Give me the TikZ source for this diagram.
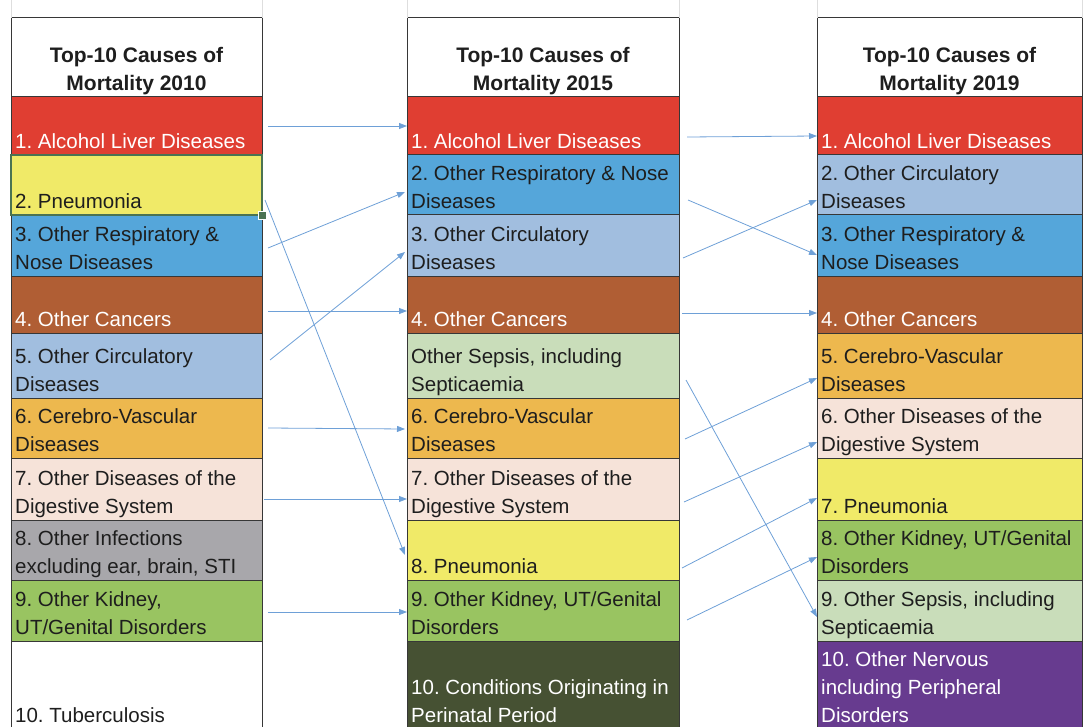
\documentclass[tikz,border=0pt]{standalone}
\usepackage{fontspec}
\setmainfont{Liberation Sans}
\usetikzlibrary{arrows.meta}

\definecolor{cellline}{RGB}{55,55,55}
\definecolor{darktext}{RGB}{30,30,30}
\definecolor{gridgray}{RGB}{222,222,222}
\definecolor{linkblue}{RGB}{110,160,215}
\definecolor{selgreen}{RGB}{75,115,82}
\definecolor{alcred}{RGB}{224,62,50}
\definecolor{pneuyellow}{RGB}{240,234,104}
\definecolor{respblue}{RGB}{85,166,218}
\definecolor{cancerbrown}{RGB}{176,94,52}
\definecolor{circblue}{RGB}{161,190,223}
\definecolor{cerebroorange}{RGB}{237,184,78}
\definecolor{digestpeach}{RGB}{246,227,217}
\definecolor{infectgray}{RGB}{168,167,171}
\definecolor{kidneygreen}{RGB}{153,196,97}
\definecolor{sepsisgreen}{RGB}{201,221,186}
\definecolor{perinataldark}{RGB}{70,81,51}
\definecolor{nervouspurple}{RGB}{103,59,143}

\newcommand\cellstrut{\rule[-5pt]{0pt}{21pt}}
\frenchspacing

\begin{document}
\begin{tikzpicture}[x=1pt, y=-1pt,
    cell/.style={draw=cellline, line width=1pt, anchor=north west, inner sep=0pt, outer sep=0pt},
    txt/.style={anchor=south west, inner xsep=4pt, inner ysep=1pt, align=left, text=darktext,
        font=\fontsize{20.5}{28}\selectfont, execute at end node=\cellstrut},
    light/.style={txt, text=white},
    ttl/.style={anchor=south, inner xsep=0pt, inner ysep=1pt, align=center, text=darktext,
        font=\fontsize{21}{28}\selectfont\bfseries, execute at end node=\cellstrut},
    grid/.style={draw=gridgray, line width=0.8pt},
    selbox/.style={draw=selgreen, line width=2.6pt},
    link/.style={draw=linkblue, line width=0.8pt, -{Triangle[length=8pt,width=6pt]}}
]
    \useasboundingbox (0,0) rectangle (1086,727);
    \clip (0,0) rectangle (1086,727);

    \node[cell, fill=white, minimum width=251pt, minimum height=79pt,
        label={[ttl]south:Top-10 Causes of\\Mortality 2010}] (a0) at (11,18) {};
    \node[cell, fill=alcred, minimum width=251pt, minimum height=58pt,
        label={[light]south west:1. Alcohol Liver Diseases}] (a1) at (11,97) {};
    \node[cell, fill=pneuyellow, minimum width=251pt, minimum height=60pt,
        label={[txt]south west:2. Pneumonia}] (a2) at (11,155) {};
    \node[cell, fill=respblue, minimum width=251pt, minimum height=61pt,
        label={[txt]south west:3. Other Respiratory \&\\Nose Diseases}] (a3) at (11,215) {};
    \node[cell, fill=cancerbrown, minimum width=251pt, minimum height=57pt,
        label={[light]south west:4. Other Cancers}] (a4) at (11,276) {};
    \node[cell, fill=circblue, minimum width=251pt, minimum height=65pt,
        label={[txt]south west:5. Other Circulatory\\Diseases}] (a5) at (11,333) {};
    \node[cell, fill=cerebroorange, minimum width=251pt, minimum height=60pt,
        label={[txt]south west:6. Cerebro-Vascular\\Diseases}] (a6) at (11,398) {};
    \node[cell, fill=digestpeach, minimum width=251pt, minimum height=62pt,
        label={[txt]south west:7. Other Diseases of the\\Digestive System}] (a7) at (11,458) {};
    \node[cell, fill=infectgray, minimum width=251pt, minimum height=60pt,
        label={[txt]south west:{8. Other Infections\\excluding ear, brain, STI}}] (a8) at (11,520) {};
    \node[cell, fill=kidneygreen, minimum width=251pt, minimum height=61pt,
        label={[txt]south west:{9. Other Kidney,\\UT/Genital Disorders}}] (a9) at (11,580) {};
    \node[cell, fill=white, minimum width=251pt, minimum height=88pt,
        label={[txt]south west:10. Tuberculosis}] (a10) at (11,641) {};
    \draw[selbox] (a2.north west) rectangle (a2.south east);
    \node[fill=selgreen, draw=white, line width=0.6pt, minimum size=8pt, inner sep=0pt] (handle) at (a2.south east) {};

    \node[cell, fill=white, minimum width=272pt, minimum height=79pt,
        label={[ttl]south:Top-10 Causes of\\Mortality 2015}] (b0) at (407,18) {};
    \node[cell, fill=alcred, minimum width=272pt, minimum height=58pt,
        label={[light]south west:1. Alcohol Liver Diseases}] (b1) at (407,97) {};
    \node[cell, fill=respblue, minimum width=272pt, minimum height=60pt,
        label={[txt]south west:2. Other Respiratory \& Nose\\Diseases}] (b2) at (407,155) {};
    \node[cell, fill=circblue, minimum width=272pt, minimum height=61pt,
        label={[txt]south west:3. Other Circulatory\\Diseases}] (b3) at (407,215) {};
    \node[cell, fill=cancerbrown, minimum width=272pt, minimum height=57pt,
        label={[light]south west:4. Other Cancers}] (b4) at (407,276) {};
    \node[cell, fill=sepsisgreen, minimum width=272pt, minimum height=65pt,
        label={[txt]south west:{Other Sepsis, including\\Septicaemia}}] (b5) at (407,333) {};
    \node[cell, fill=cerebroorange, minimum width=272pt, minimum height=60pt,
        label={[txt]south west:6. Cerebro-Vascular\\Diseases}] (b6) at (407,398) {};
    \node[cell, fill=digestpeach, minimum width=272pt, minimum height=62pt,
        label={[txt]south west:7. Other Diseases of the\\Digestive System}] (b7) at (407,458) {};
    \node[cell, fill=pneuyellow, minimum width=272pt, minimum height=60pt,
        label={[txt]south west:8. Pneumonia}] (b8) at (407,520) {};
    \node[cell, fill=kidneygreen, minimum width=272pt, minimum height=61pt,
        label={[txt]south west:{9. Other Kidney, UT/Genital\\Disorders}}] (b9) at (407,580) {};
    \node[cell, fill=perinataldark, minimum width=272pt, minimum height=88pt,
        label={[light]south west:10. Conditions Originating in\\Perinatal Period}] (b10) at (407,641) {};

    \node[cell, fill=white, minimum width=265pt, minimum height=79pt,
        label={[ttl]south:Top-10 Causes of\\Mortality 2019}] (c0) at (817,18) {};
    \node[cell, fill=alcred, minimum width=265pt, minimum height=58pt,
        label={[light]south west:1. Alcohol Liver Diseases}] (c1) at (817,97) {};
    \node[cell, fill=circblue, minimum width=265pt, minimum height=60pt,
        label={[txt]south west:2. Other Circulatory\\Diseases}] (c2) at (817,155) {};
    \node[cell, fill=respblue, minimum width=265pt, minimum height=61pt,
        label={[txt]south west:3. Other Respiratory \&\\Nose Diseases}] (c3) at (817,215) {};
    \node[cell, fill=cancerbrown, minimum width=265pt, minimum height=57pt,
        label={[light]south west:4. Other Cancers}] (c4) at (817,276) {};
    \node[cell, fill=cerebroorange, minimum width=265pt, minimum height=65pt,
        label={[txt]south west:5. Cerebro-Vascular\\Diseases}] (c5) at (817,333) {};
    \node[cell, fill=digestpeach, minimum width=265pt, minimum height=60pt,
        label={[txt]south west:6. Other Diseases of the\\Digestive System}] (c6) at (817,398) {};
    \node[cell, fill=pneuyellow, minimum width=265pt, minimum height=62pt,
        label={[txt]south west:7. Pneumonia}] (c7) at (817,458) {};
    \node[cell, fill=kidneygreen, minimum width=265pt, minimum height=60pt,
        label={[txt]south west:{8. Other Kidney, UT/Genital\\Disorders}}] (c8) at (817,520) {};
    \node[cell, fill=sepsisgreen, minimum width=265pt, minimum height=61pt,
        label={[txt]south west:{9. Other Sepsis, including\\Septicaemia}}] (c9) at (817,580) {};
    \node[cell, fill=nervouspurple, minimum width=265pt, minimum height=88pt,
        label={[light]south west:10. Other Nervous\\including Peripheral\\Disorders}] (c10) at (817,641) {};

    \draw[grid] (a0.north west) -- ++(0,-18);
    \draw[grid] (a0.north east) -- ++(0,-18);
    \draw[grid] (b0.north west) -- ++(0,-18);
    \draw[grid] (b0.north east) -- ++(0,-18);
    \draw[grid] (c0.north west) -- ++(0,-18);
    \draw[grid] (c0.north east) -- ++(0,-18);

    \draw[link] ([xshift=6pt]a1.east) -- (b1.west);
    \draw[link] ([xshift=3pt,yshift=-15pt]a2.east) -- ([xshift=-2pt,yshift=-5pt]b8.west);
    \draw[link] ([xshift=6pt,yshift=-2.5pt]a3.east) -- ([xshift=-2pt,yshift=-7pt]b2.west);
    \draw[link] ([xshift=6pt,yshift=-6.5pt]a4.east) -- ([yshift=-6.5pt]b4.west);
    \draw[link] ([xshift=8pt,yshift=5.5pt]a5.east) -- ([xshift=-2pt,yshift=-6.5pt]b3.west);
    \draw[link] ([xshift=6pt]a6.east) -- ([xshift=-2pt,yshift=-1pt]b6.west);
    \draw[link] ([xshift=2pt,yshift=-10pt]a7.east) -- ([yshift=-10pt]b7.west);
    \draw[link] ([xshift=6pt,yshift=-1.5pt]a9.east) -- ([yshift=-1.5pt]b9.west);

    \draw[link] ([xshift=8pt,yshift=-11pt]b1.east) -- ([yshift=-10pt]c1.west);
    \draw[link] ([xshift=9pt,yshift=-15pt]b2.east) -- ([yshift=-9.5pt]c3.west);
    \draw[link] ([xshift=4pt,yshift=-12.5pt]b3.east) -- ([yshift=-15pt]c2.west);
    \draw[link] ([xshift=3pt,yshift=-8.5pt]b4.east) -- ([yshift=-8.5pt]c4.west);
    \draw[link] ([xshift=7pt,yshift=-14.5pt]b5.east) -- ([yshift=-6.5pt]c9.west);
    \draw[link] ([xshift=6pt,yshift=-11pt]b6.east) -- ([yshift=-12.5pt]c5.west);
    \draw[link] ([xshift=5pt,yshift=-13pt]b7.east) -- ([yshift=-14pt]c6.west);
    \draw[link] ([xshift=3pt,yshift=-18pt]b8.east) -- ([yshift=-9pt]c7.west);
    \draw[link] ([xshift=8pt,yshift=-9.5pt]b9.east) -- ([yshift=-7pt]c8.west);
\end{tikzpicture}
\end{document}
